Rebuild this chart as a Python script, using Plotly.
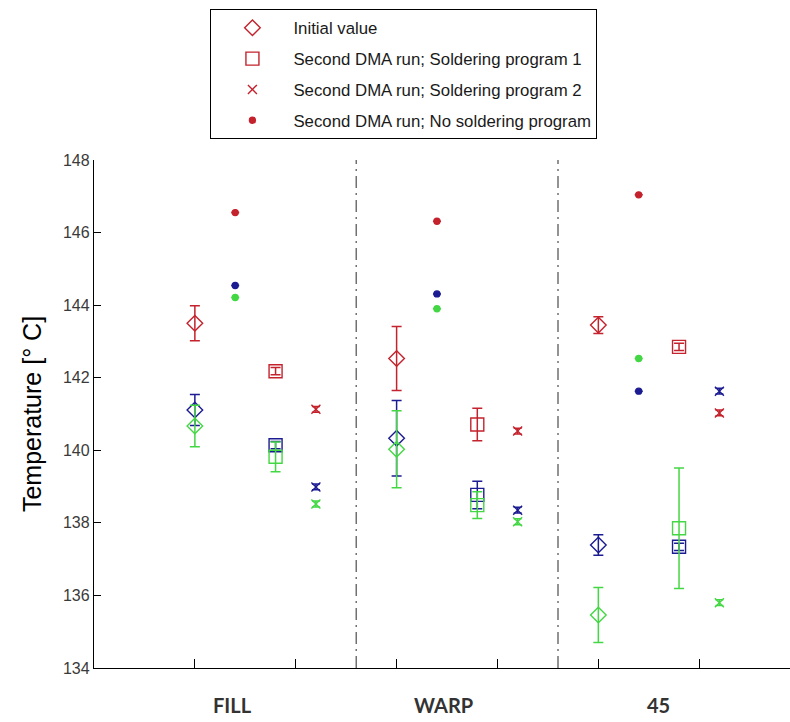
import plotly.graph_objects as go

# Fibre orientations and the x position of each group
groups = ["FILL", "WARP", "45"]
group_base = [1, 3, 5]
label_pos = [1.37, 3.46, 5.6]
dividers = [2.6, 4.6]

# Measurement types, their offsets within a group and marker styles
types = ["Initial value",
         "Second DMA run; Soldering program 1",
         "Second DMA run; Soldering program 2",
         "Second DMA run; No soldering program"]
type_offset = [0.0, 0.8, 1.2, 0.4]

# Specimen colours
colors = {"red": "#c4222c", "blue": "#1c1c92", "green": "#44d744"}

# Glass transition temperatures [°C] per type and specimen (FILL, WARP, 45)
initial = {"red": [143.50, 142.53, 143.45],
           "blue": [141.11, 140.33, 137.39],
           "green": [140.67, 140.03, 135.46]}
initial_err = {"red": [0.48, 0.88, 0.23],
               "blue": [0.43, 1.04, 0.28],
               "green": [0.57, 1.06, 0.76]}

sp1 = {"red": [142.18, 140.71, 142.85],
       "blue": [140.14, 138.77, 137.34],
       "green": [139.82, 138.49, 137.85]}
sp1_err = {"red": [0.10, 0.45, 0.10],
           "blue": [0.10, 0.38, 0.10],
           "green": [0.41, 0.37, 1.66]}

sp2 = {"red": [141.13, 140.53, 141.03],
       "blue": [138.99, 138.35, 141.63],
       "green": [138.52, 138.03, 135.80]}
sp2_err = {"red": [0.08, 0.08, 0.08],
           "blue": [0.08, 0.08, 0.08],
           "green": [0.08, 0.08, 0.08]}

nosp = {"red": [146.55, 146.31, 147.04],
        "blue": [144.54, 144.31, 141.63],
        "green": [144.21, 143.90, 142.53]}
nosp_err = {"red": [0.0, 0.0, 0.0],
            "blue": [0.0, 0.0, 0.0],
            "green": [0.0, 0.0, 0.0]}

series = [(initial, initial_err, "diamond-open", 12, 5),
          (sp1, sp1_err, "square-open", 13, 5),
          (sp2, sp2_err, "x-thin-open", 9, 4),
          (nosp, nosp_err, "circle", 6, 4)]

fig = go.Figure()

for ti, (vals, errs, symbol, size, capw) in enumerate(series):
    xs = [b + type_offset[ti] for b in group_base]
    for cname in ["red", "blue", "green"]:
        col = colors[cname]
        fig.add_trace(go.Scatter(
            x=xs, y=vals[cname], mode="markers",
            name=types[ti],
            legendgroup="type%d" % ti,
            legendrank=ti + 1,
            showlegend=(cname == "red"),
            marker=dict(symbol=symbol, size=size, color=col,
                        line=dict(color=col, width=1.4)),
            error_y=dict(type="data", array=errs[cname], visible=True,
                         color=col, thickness=1.5, width=capw),
        ))

# Dash-dot separators between the orientation groups
for d in dividers:
    fig.add_shape(type="line", xref="x", yref="paper", x0=d, x1=d, y0=0, y1=1,
                  line=dict(color="#707070", width=1.5, dash="12px,5px,2px,5px"))

# Group labels under the x axis
for g, xp in zip(groups, label_pos):
    fig.add_annotation(x=xp, y=-0.1, xref="x", yref="paper", text=g,
                       showarrow=False,
                       font=dict(family="Lato", size=20, color="#333333", weight="bold"))

fig.update_layout(
    width=790, height=722,
    margin=dict(l=94, r=0, t=160, b=54),
    paper_bgcolor="white", plot_bgcolor="white",
    font=dict(family="Liberation Sans", color="#222222"),
    legend=dict(x=0.167, y=1.297, xanchor="left", yanchor="top",
                bordercolor="black", borderwidth=1.2, bgcolor="white",
                font=dict(family="Liberation Sans", size=16.8, color="#1a1a1a"),
                itemwidth=72, tracegroupgap=6, traceorder="grouped"),
)

fig.update_xaxes(range=[0, 6.9], tickvals=[1, 2, 3, 4, 5, 6], ticktext=[""] * 6,
                 ticks="inside", ticklen=9, tickwidth=1.3, tickcolor="black",
                 showline=True, linecolor="black", linewidth=1.3,
                 showgrid=False, zeroline=False)
fig.update_yaxes(range=[134, 148], tickvals=list(range(134, 149, 2)),
                 ticks="inside", ticklen=7, tickwidth=1.3, tickcolor="black",
                 showline=True, linecolor="black", linewidth=1.3,
                 showgrid=False, zeroline=False,
                 tickfont=dict(family="Liberation Sans", size=16, color="#3a3a3a"),
                 title=dict(text="Temperature [° C]", standoff=14,
                            font=dict(family="Liberation Sans", size=25, color="black")))

fig.write_html("out.html")
